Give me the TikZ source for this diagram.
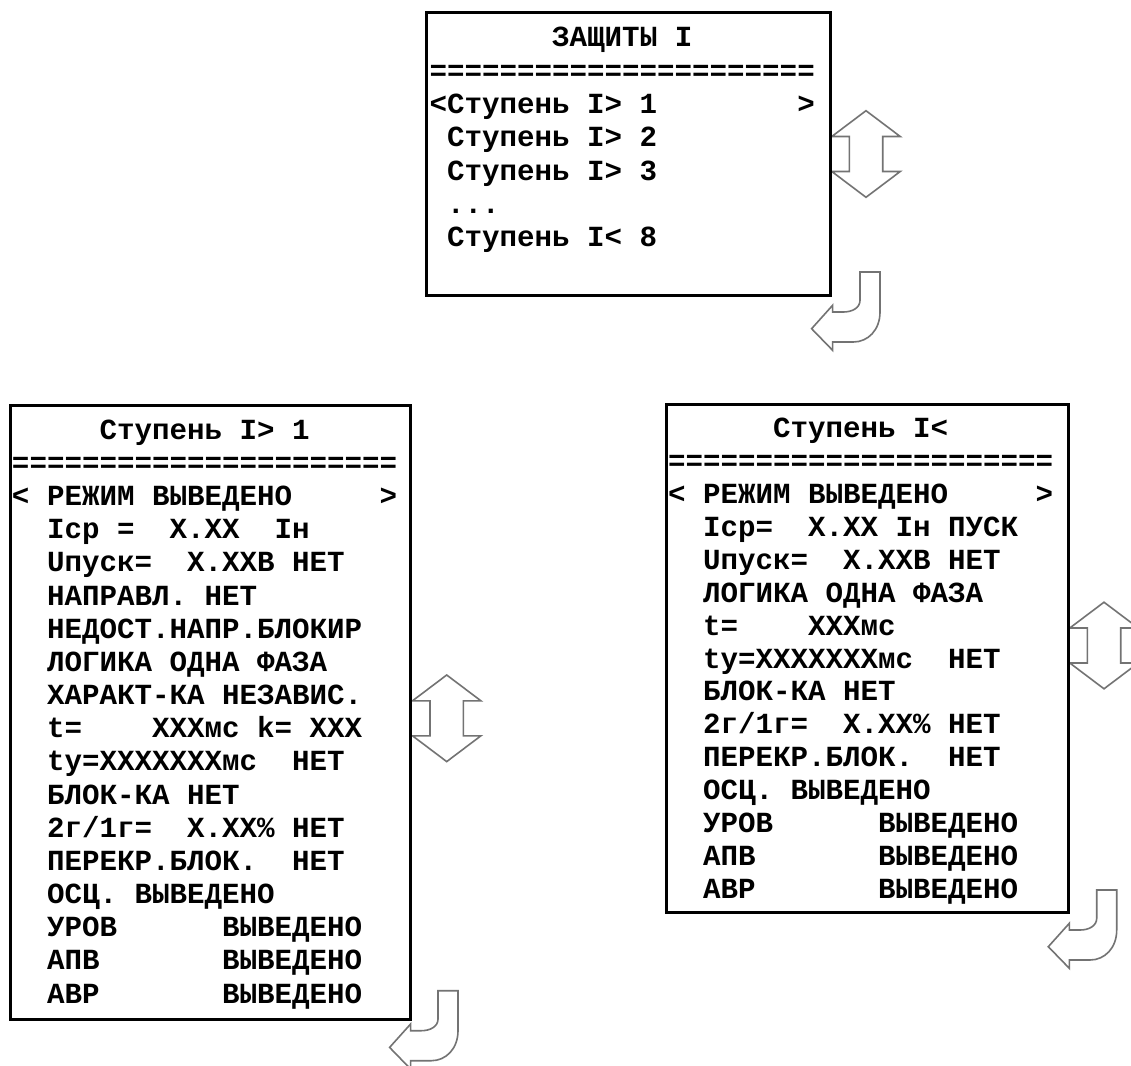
\documentclass[tikz,border=0pt]{standalone}
\usepackage{fontspec}
\newfontfamily\monofam{Liberation Mono}
\tikzset{
  box/.style={draw=black, line width=3pt, inner sep=0pt, outer sep=0pt, anchor=north west},
  txt/.style={font=\monofam\bfseries\fontsize{29.17}{33}\selectfont, inner sep=0pt, outer sep=0pt, anchor=base west, text=black},
  arrowshape/.style={draw=black!55, line width=1.6pt, fill=white, line join=miter},
}
\newcommand\myudarrow[1]{%
  \draw[arrowshape, shift={#1}] (0,43.3) -- (34.2,17.5) -- (16.7,17.5) -- (16.7,-17.5) -- (34.2,-17.5) -- (0,-43.3) -- (-34.2,-17.5) -- (-16.7,-17.5) -- (-16.7,17.5) -- (-34.2,17.5) -- cycle;}
\newcommand\mybentarrow[1]{%
  \draw[arrowshape, shift={#1}] (0,0) -- (20,0) -- (20,-40) .. controls (20,-58) and (8,-70) .. (-6.7,-70) -- (-27.4,-70) -- (-27.4,-78.3) -- (-48.4,-56.7) -- (-27.4,-33.3) -- (-27.4,-40) -- (-16.7,-40) .. controls (-8,-40) and (0,-36) .. (0,-28.3) -- cycle;}
% line macros: name, line index, text
\newcommand\tline[3]{\node[txt] (#1) at (429.7,{-47-#2*33.28}) {#3};}
\newcommand\lline[3]{\node[txt] (#1) at (12,{-439.3-#2*33.16}) {#3};}
\newcommand\rline[3]{\node[txt] (#1) at (668,{-437.5-#2*32.93}) {#3};}
\begin{document}
\begin{tikzpicture}[x=1pt,y=1pt]
\useasboundingbox (0,0) rectangle (1131,-1065);
\clip (0,0) rectangle (1131,-1065);
\fill[white] (0,0) rectangle (1131,-1065);
% arrows
\myudarrow{(866,-154)}
\myudarrow{(446.7,-718.3)}
\myudarrow{(1104,-645.5)}
\mybentarrow{(860,-272)}
\mybentarrow{(438,-990.7)}
\mybentarrow{(1096.7,-890)}
% boxes
\node[box, minimum width=403.5pt, minimum height=282.5pt] (topbox) at (426.5,-12.5) {};
\node[box, minimum width=399.5pt, minimum height=614pt] (leftbox) at (10.5,-405) {};
\node[box, minimum width=402.5pt, minimum height=508.3pt] (rightbox) at (666,-404) {};
% top box text
\tline{t0}{0}{~~~~~~~ЗАЩИТЫ~I}
\tline{t1}{1}{======================}
\tline{t2}{2}{<Ступень~I>~1~~~~~~~~>}
\tline{t3}{3}{~Ступень~I>~2}
\tline{t4}{4}{~Ступень~I>~3}
\tline{t5}{5}{~...}
\tline{t6}{6}{~Ступень~I<~8}
% left box text
\lline{l0}{0}{~~~~~Ступень~I>~1}
\lline{l1}{1}{======================}
\lline{l2}{2}{<~РЕЖИМ~ВЫВЕДЕНО~~~~~>}
\lline{l3}{3}{~~Iср~=~~X.XX~~Iн}
\lline{l4}{4}{~~Uпуск=~~X.XXВ~НЕТ}
\lline{l5}{5}{~~НАПРАВЛ.~НЕТ}
\lline{l6}{6}{~~НЕДОСТ.НАПР.БЛОКИР}
\lline{l7}{7}{~~ЛОГИКА~ОДНА~ФАЗА}
\lline{l8}{8}{~~ХАРАКТ-КА~НЕЗАВИС.}
\lline{l9}{9}{~~t=~~~~XXXмс~k=~XXX}
\lline{l10}{10}{~~tу=XXXXXXXмс~~НЕТ}
\lline{l11}{11}{~~БЛОК-КА~НЕТ}
\lline{l12}{12}{~~2г/1г=~~X.XX\%~НЕТ}
\lline{l13}{13}{~~ПЕРЕКР.БЛОК.~~НЕТ}
\lline{l14}{14}{~~ОСЦ.~ВЫВЕДЕНО}
\lline{l15}{15}{~~УРОВ~~~~~~ВЫВЕДЕНО}
\lline{l16}{16}{~~АПВ~~~~~~~ВЫВЕДЕНО}
\lline{l17}{17}{~~АВР~~~~~~~ВЫВЕДЕНО}
% right box text
\rline{r0}{0}{~~~~~~Ступень~I<}
\rline{r1}{1}{======================}
\rline{r2}{2}{<~РЕЖИМ~ВЫВЕДЕНО~~~~~>}
\rline{r3}{3}{~~Iср=~~X.XX~Iн~ПУСК}
\rline{r4}{4}{~~Uпуск=~~X.XXВ~НЕТ}
\rline{r5}{5}{~~ЛОГИКА~ОДНА~ФАЗА}
\rline{r6}{6}{~~t=~~~~XXXмс}
\rline{r7}{7}{~~tу=XXXXXXXмс~~НЕТ}
\rline{r8}{8}{~~БЛОК-КА~НЕТ}
\rline{r9}{9}{~~2г/1г=~~X.XX\%~НЕТ}
\rline{r10}{10}{~~ПЕРЕКР.БЛОК.~~НЕТ}
\rline{r11}{11}{~~ОСЦ.~ВЫВЕДЕНО}
\rline{r12}{12}{~~УРОВ~~~~~~ВЫВЕДЕНО}
\rline{r13}{13}{~~АПВ~~~~~~~ВЫВЕДЕНО}
\rline{r14}{14}{~~АВР~~~~~~~ВЫВЕДЕНО}
\end{tikzpicture}
\end{document}
